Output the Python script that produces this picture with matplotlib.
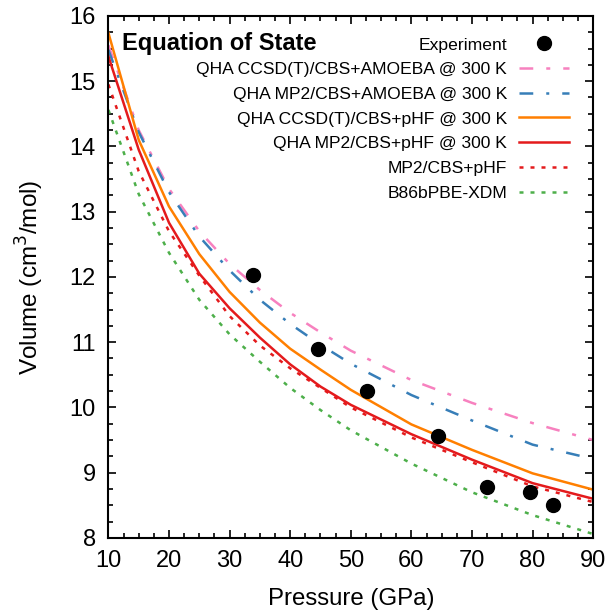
import numpy as np
import matplotlib.pyplot as plt

plt.rcParams['font.family'] = ['Liberation Sans', 'DejaVu Sans']

# experiment
p_exp = [33.8, 44.6, 52.7, 64.4, 72.5, 79.5, 83.4]
v_exp = [12.03, 10.90, 10.25, 9.56, 8.78, 8.70, 8.51]

p = [10, 15, 20, 25, 30, 35, 40, 45, 50, 60, 70, 80, 90]
v_ccsd_amoeba = [15.55, 14.25, 13.35, 12.70, 12.20, 11.80, 11.45, 11.15, 10.87, 10.42, 10.07, 9.76, 9.50]
v_mp2_amoeba = [15.48, 14.22, 13.30, 12.62, 12.10, 11.65, 11.28, 10.96, 10.67, 10.19, 9.80, 9.43, 9.21]
v_ccsd_phf = [15.74, 14.10, 13.08, 12.35, 11.77, 11.30, 10.90, 10.58, 10.27, 9.74, 9.35, 8.99, 8.74]
v_mp2_phf = [15.38, 13.95, 12.83, 12.05, 11.52, 11.07, 10.66, 10.32, 10.04, 9.59, 9.20, 8.84, 8.60]
v_mp2_static = [14.95, 13.62, 12.70, 12.02, 11.40, 10.95, 10.60, 10.30, 10.00, 9.54, 9.16, 8.79, 8.55]
v_xdm = [14.56, 13.27, 12.37, 11.65, 11.12, 10.70, 10.30, 9.96, 9.65, 9.14, 8.70, 8.35, 8.06]

fig = plt.figure(figsize=(6.09, 6.12), dpi=100)
ax = fig.add_axes([0.178, 0.121, 0.796, 0.853])

lw = 1.8
ax.plot(p_exp, v_exp, 'o', color='black', ms=10, label='Experiment', zorder=5)
ax.plot(p, v_ccsd_amoeba, color='#f781bf', lw=lw, ls=(0, (5.5, 5.2, 1.6, 5.2)),
        label='QHA CCSD(T)/CBS+AMOEBA @ 300 K')
ax.plot(p, v_mp2_amoeba, color='#377eb8', lw=lw, ls=(0, (5.5, 5.2, 1.2, 5.2)),
        label='QHA MP2/CBS+AMOEBA @ 300 K')
ax.plot(p, v_ccsd_phf, color='#ff7f00', lw=lw, label='QHA CCSD(T)/CBS+pHF @ 300 K')
ax.plot(p, v_mp2_phf, color='#e41a1c', lw=lw, label='QHA MP2/CBS+pHF @ 300 K')
ax.plot(p, v_mp2_static, color='#e41a1c', lw=lw, ls=(0, (1.6, 2.8)), label='MP2/CBS+pHF')
ax.plot(p, v_xdm, color='#4daf4a', lw=lw, ls=(0, (1.6, 2.8)), label='B86bPBE-XDM')

ax.set_xlim(10, 90)
ax.set_ylim(8, 16)
ax.set_xticks(np.arange(10, 91, 10))
ax.set_xticks(np.arange(10, 90.1, 2.5), minor=True)
ax.set_yticks(np.arange(8, 16.1, 1))
ax.set_yticks(np.arange(8, 16.01, 0.25), minor=True)
ax.tick_params(which='both', direction='in', top=True, right=True, labelsize=17, width=1.2)
ax.tick_params(which='major', length=6, pad=9)
ax.tick_params(which='minor', length=3.5)
for s in ax.spines.values():
    s.set_linewidth(1.5)

ax.set_xlabel('Pressure (GPa)', fontsize=17.3, labelpad=11)
ax.set_ylabel('Volume (cm$^3$/mol)', fontsize=17.5, labelpad=17)

ax.text(0.028, 0.948, 'Equation of State', transform=ax.transAxes, fontsize=17,
        fontweight='bold', va='center', ha='left')

leg = ax.legend(loc='upper right', bbox_to_anchor=(0.965, 0.9725), frameon=False,
                markerfirst=False, fontsize=12.6, handlelength=2.86, handletextpad=0.7,
                labelspacing=0.54, borderaxespad=0)
for t in leg.get_texts():
    t.set_ha('right')

fig.savefig('out.png', dpi=100)
